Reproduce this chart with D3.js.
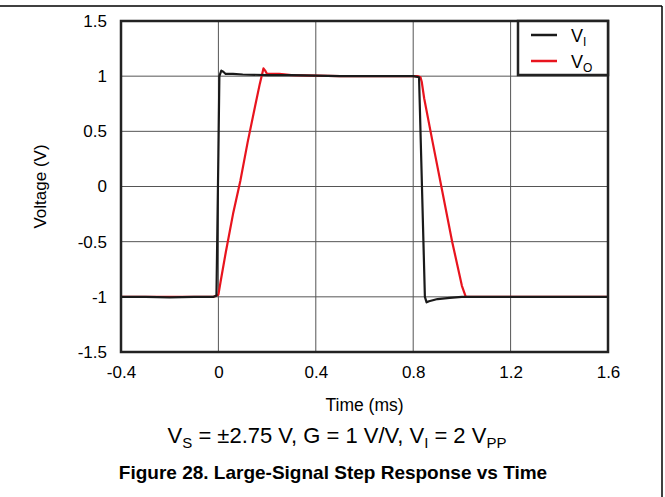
<!DOCTYPE html>
<html>
<head>
<meta charset="utf-8">
<script src="https://cdn.jsdelivr.net/npm/d3@7"></script>
<style>
  body { margin: 0; background: #fff; }
  text { font-family: "Liberation Sans", Arial, sans-serif; fill: #000; }
</style>
</head>
<body>
<svg id="chart"></svg>
<script>
// Data
const xTicks = [-0.4, 0, 0.4, 0.8, 1.2, 1.6];
const yTicks = [-1.5, -1, -0.5, 0, 0.5, 1, 1.5];

const timeVI = [-0.4, -0.3, -0.2, -0.1, -0.02, -0.008, 0.0, 0.004, 0.012, 0.02, 0.03, 0.06, 0.1, 0.2, 0.3, 0.4, 0.5, 0.6, 0.7, 0.8, 0.824, 0.836, 0.848, 0.855, 0.865, 0.9, 0.95, 1.0, 1.2, 1.4, 1.6];
const voltVI = [-1.0, -1.0, -1.005, -1.0, -1.0, -0.99, 0.3, 1.0, 1.05, 1.04, 1.02, 1.02, 1.015, 1.01, 1.01, 1.005, 1.0, 1.0, 1.0, 1.0, 0.99, 0.0, -1.0, -1.05, -1.04, -1.02, -1.01, -1.0, -1.0, -1.0, -1.0];

const timeVO = [-0.4, -0.2, -0.02, 0.0, 0.01, 0.03, 0.06, 0.09, 0.12, 0.15, 0.17, 0.185, 0.192, 0.2, 0.25, 0.3, 0.5, 0.82, 0.83, 0.835, 0.845, 0.88, 0.92, 0.96, 1.0, 1.016, 1.05, 1.2, 1.6];
const voltVO = [-1.0, -1.0, -1.0, -0.98, -0.85, -0.6, -0.25, 0.05, 0.4, 0.72, 0.93, 1.07, 1.05, 1.02, 1.02, 1.01, 1.0, 1.0, 0.99, 0.95, 0.8, 0.4, -0.05, -0.5, -0.9, -1.0, -1.0, -1.0, -1.0];

const width = 665;
const height = 497;
const margin = { top: 21, right: 56, bottom: 145, left: 121 };

const svg = d3.select("#chart")
    .attr("width", width)
    .attr("height", height);

// page frame lines
svg.append("line").attr("x1", 0).attr("x2", 662).attr("y1", 6).attr("y2", 6)
    .attr("stroke", "#000").attr("stroke-width", 1.5);
svg.append("line").attr("x1", 662).attr("x2", 662).attr("y1", 6).attr("y2", height)
    .attr("stroke", "#000").attr("stroke-width", 1.5);

const x = d3.scaleLinear()
    .domain([-0.4, 1.6])
    .range([margin.left, width - margin.right - 1]);

const y = d3.scaleLinear()
    .domain([-1.5, 1.5])
    .range([height - margin.bottom, margin.top]);

// Grid
svg.append("g")
    .selectAll("line")
    .data(xTicks)
    .enter()
    .append("line")
    .attr("x1", d => x(d)).attr("x2", d => x(d))
    .attr("y1", y(-1.5)).attr("y2", y(1.5))
    .attr("stroke", "#555").attr("stroke-width", 1);

svg.append("g")
    .selectAll("line")
    .data(yTicks)
    .enter()
    .append("line")
    .attr("x1", x(-0.4)).attr("x2", x(1.6))
    .attr("y1", d => y(d)).attr("y2", d => y(d))
    .attr("stroke", "#555").attr("stroke-width", 1);

// Trục X
svg.append("g")
    .attr("transform", `translate(0,${y(-1.5)})`)
    .call(d3.axisBottom(x).tickValues(xTicks).tickSize(0).tickPadding(14).tickFormat(d => String(d)))
    .call(g => g.select(".domain").remove())
    .selectAll("text")
    .style("font-size", "17px")
    .style("font-family", "Liberation Sans, Arial, sans-serif");

// Trục Y
svg.append("g")
    .attr("transform", `translate(${x(-0.4)},0)`)
    .call(d3.axisLeft(y).tickValues(yTicks).tickSize(0).tickPadding(14).tickFormat(d => String(d)))
    .call(g => g.select(".domain").remove())
    .selectAll("text")
    .style("font-size", "17px")
    .style("font-family", "Liberation Sans, Arial, sans-serif");

// Lines
const line = d3.line().x(d => x(d[0])).y(d => y(d[1]));
const vo = timeVO.map((t, i) => [t, voltVO[i]]);
const vi = timeVI.map((t, i) => [t, voltVI[i]]);

svg.append("path").datum(vo).attr("d", line)
    .attr("fill", "none").attr("stroke", "#e8141e").attr("stroke-width", 2.2)
    .attr("stroke-linejoin", "round");
svg.append("path").datum(vi).attr("d", line)
    .attr("fill", "none").attr("stroke", "#1a1a1a").attr("stroke-width", 2.2)
    .attr("stroke-linejoin", "round");

// Plot frame
svg.append("rect")
    .attr("x", x(-0.4)).attr("y", y(1.5))
    .attr("width", x(1.6) - x(-0.4)).attr("height", y(-1.5) - y(1.5))
    .attr("fill", "none").attr("stroke", "#222").attr("stroke-width", 2.5);

// Chú thích
const legend = svg.append("g")
    .attr("transform", `translate(${x(1.6) - 90},${y(1.5)})`);
legend.append("rect").attr("x", 0).attr("y", 0).attr("width", 90).attr("height", 54)
    .attr("fill", "#fff").attr("stroke", "#222").attr("stroke-width", 2.5);
const items = [["I", "#1a1a1a"], ["O", "#e8141e"]];
items.forEach((it, i) => {
    const yy = 14 + i * 26;
    legend.append("line").attr("x1", 13).attr("x2", 39).attr("y1", yy).attr("y2", yy)
        .attr("stroke", it[1]).attr("stroke-width", 2.5);
    const t = legend.append("text").attr("x", 53).attr("y", yy + 7).style("font-size", "18px");
    t.append("tspan").text("V");
    t.append("tspan").attr("dy", 4).style("font-size", "12px").text(it[0]);
});

// Axis titles
svg.append("text")
    .attr("transform", `translate(46,${(y(1.5) + y(-1.5)) / 2}) rotate(-90)`)
    .attr("text-anchor", "middle")
    .style("font-size", "17px")
    .text("Voltage (V)");

svg.append("text")
    .attr("x", (x(-0.4) + x(1.6)) / 2)
    .attr("y", 411)
    .attr("text-anchor", "middle")
    .style("font-size", "17.5px")
    .text("Time (ms)");

// Conditions line
const cond = svg.append("text")
    .attr("x", 337)
    .attr("y", 443)
    .attr("text-anchor", "middle")
    .style("font-size", "22px");
const parts = [["V", 0], ["S", 1], [" = ±2.75 V, G = 1 V/V, V", 0], ["I", 1], [" = 2 V", 0], ["PP", 1]];
let sub = false;
parts.forEach(p => {
    const ts = cond.append("tspan").text(p[0]);
    if (p[1] && !sub) { ts.attr("dy", 5).style("font-size", "15px"); sub = true; }
    else if (!p[1] && sub) { ts.attr("dy", -5); sub = false; }
});

// Caption
svg.append("text")
    .attr("x", 333)
    .attr("y", 479)
    .attr("text-anchor", "middle")
    .style("font-size", "19px")
    .style("font-weight", "bold")
    .text("Figure 28. Large-Signal Step Response vs Time");
</script>
</body>
</html>
